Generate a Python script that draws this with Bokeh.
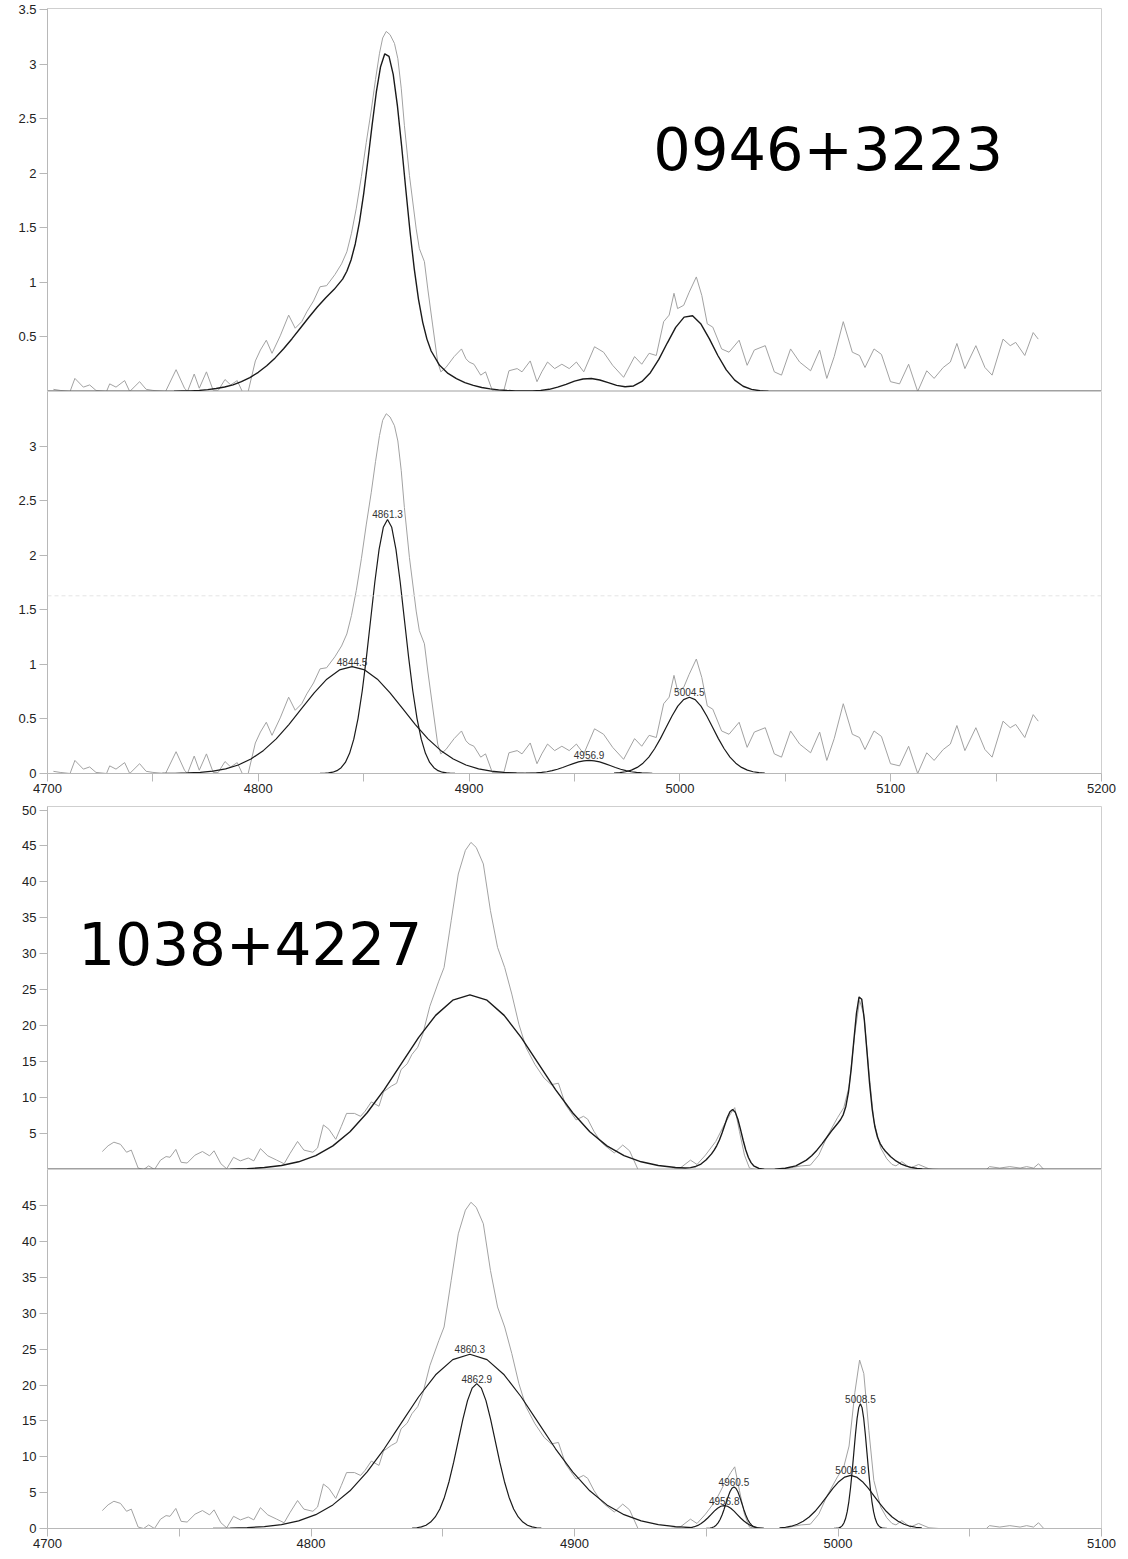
from bokeh.plotting import figure
from bokeh.layouts import column
from bokeh.models import Range1d, FixedTicker, Label, Span, ColumnDataSource
from bokeh.embed import file_html
from bokeh.resources import INLINE
from bokeh.core.properties import value

# ---------------- 0946+3223 ----------------
obs1_wl = [4702.8, 4706.0, 4710.7, 4713.0, 4717.0, 4720.0, 4723.0, 4728.0, 4729.5, 4732.5, 4736.6, 4739.0,
           4743.7, 4746.8, 4750.0, 4756.0, 4761.0, 4765.0, 4766.4, 4769.6, 4772.0, 4775.4, 4778.6, 4781.0,
           4784.2, 4786.9, 4790.0, 4792.4, 4795.2, 4798.6, 4801.0, 4803.8, 4806.5, 4810.4, 4814.4, 4817.5,
           4820.6, 4823.0, 4826.2, 4829.3, 4832.4, 4836.3, 4839.5, 4842.0, 4844.2, 4846.5, 4848.9, 4851.2,
           4853.6, 4855.6, 4857.5, 4859.0, 4860.7, 4862.5, 4864.6, 4866.2, 4867.8, 4869.3, 4871.7, 4874.9,
           4876.4, 4878.8, 4880.4, 4882.7, 4885.1, 4886.6, 4889.0, 4892.9, 4896.4, 4898.5, 4900.0, 4902.3,
           4905.5, 4907.8, 4911.0, 4916.5, 4918.9, 4922.8, 4925.1, 4929.0, 4932.2, 4934.5, 4937.2, 4940.6,
           4944.0, 4947.5, 4950.9, 4954.4, 4959.5, 4963.8, 4968.1, 4973.3, 4978.5, 4981.9, 4985.4, 4988.8,
           4992.3, 4994.9, 4997.2, 4998.9, 5001.8, 5004.4, 5007.8, 5010.4, 5013.0, 5015.6, 5019.8, 5023.3,
           5028.1, 5031.9, 5035.3, 5040.5, 5044.8, 5048.2, 5052.5, 5056.8, 5062.0, 5066.3, 5069.7, 5073.2,
           5077.5, 5081.8, 5085.2, 5087.8, 5092.1, 5095.6, 5099.9, 5104.2, 5108.5, 5112.8, 5117.1, 5120.6,
           5124.9, 5128.3, 5131.4, 5135.2, 5140.4, 5144.7, 5148.1, 5153.3, 5156.7, 5159.3, 5163.6, 5167.6,
           5170.0]
obs1_flux = [0.02, 0.01, 0.00, 0.12, 0.04, 0.06, 0.01, 0.00, 0.07, 0.04, 0.10, 0.00,
             0.09, 0.02, 0.01, 0.00, 0.20, 0.03, 0.00, 0.16, 0.03, 0.18, 0.01, 0.01,
             0.11, 0.06, 0.10, 0.00, 0.00, 0.28, 0.38, 0.47, 0.35, 0.51, 0.70, 0.58,
             0.64, 0.73, 0.83, 0.96, 0.97, 1.07, 1.17, 1.28, 1.45, 1.68, 1.97, 2.28,
             2.58, 2.86, 3.10, 3.24, 3.30, 3.27, 3.19, 3.05, 2.78, 2.44, 1.98, 1.49,
             1.31, 1.19, 0.94, 0.61, 0.27, 0.18, 0.22, 0.32, 0.39, 0.30, 0.27, 0.25,
             0.15, 0.18, 0.01, 0.01, 0.19, 0.21, 0.18, 0.28, 0.09, 0.18, 0.27, 0.21,
             0.25, 0.21, 0.27, 0.18, 0.41, 0.36, 0.24, 0.13, 0.32, 0.25, 0.35, 0.33,
             0.64, 0.70, 0.90, 0.76, 0.79, 0.91, 1.05, 0.88, 0.62, 0.59, 0.39, 0.36,
             0.47, 0.24, 0.38, 0.42, 0.18, 0.15, 0.39, 0.27, 0.19, 0.38, 0.12, 0.32,
             0.64, 0.36, 0.33, 0.22, 0.39, 0.34, 0.09, 0.07, 0.25, 0.00, 0.19, 0.12,
             0.22, 0.27, 0.44, 0.21, 0.42, 0.22, 0.15, 0.48, 0.42, 0.45, 0.33, 0.54,
             0.48]

fit1_wl = [4700, 4748, 4752, 4756, 4760, 4764, 4768, 4772, 4776, 4780, 4784, 4788, 4792, 4796, 4800,
           4804, 4808, 4812, 4816, 4820, 4824, 4828, 4832, 4836, 4840, 4842, 4844, 4846, 4848, 4850,
           4852, 4854, 4856, 4858, 4860, 4862, 4864, 4866, 4868, 4870, 4872, 4874, 4876, 4878, 4880,
           4882, 4886, 4890, 4894, 4898, 4902, 4906, 4910, 4914, 4918, 4922, 4926, 4930, 4934, 4938,
           4942, 4946, 4950, 4954, 4958, 4962, 4966, 4970, 4974, 4978, 4982, 4986, 4990, 4994, 4998,
           5002, 5006, 5010, 5014, 5018, 5022, 5026, 5030, 5034, 5038, 5042, 5046, 5200]
fit1_flux = [0, 0, 0.001, 0.001, 0.002, 0.004, 0.006, 0.010, 0.017, 0.027, 0.041, 0.061, 0.090, 0.127, 0.176,
             0.236, 0.308, 0.392, 0.484, 0.582, 0.680, 0.774, 0.859, 0.936, 1.030, 1.102, 1.205, 1.352, 1.555, 1.814,
             2.119, 2.443, 2.745, 2.977, 3.095, 3.072, 2.906, 2.617, 2.248, 1.847, 1.461, 1.121, 0.845, 0.634, 0.480,
             0.371, 0.240, 0.166, 0.118, 0.082, 0.056, 0.037, 0.024, 0.015, 0.009, 0.006, 0.004, 0.005, 0.010, 0.020,
             0.040, 0.066, 0.095, 0.115, 0.119, 0.105, 0.081, 0.056, 0.043, 0.051, 0.092, 0.172, 0.294, 0.444, 0.588,
             0.682, 0.694, 0.618, 0.482, 0.330, 0.198, 0.104, 0.048, 0.019, 0.007, 0.002, 0.001, 0]

hb_broad1_wl = [4754.5, 4760.5, 4766.5, 4772.5, 4778.5, 4784.5, 4790.5, 4796.5, 4802.5, 4808.5, 4814.5,
                4820.5, 4826.5, 4832.5, 4838.5, 4844.5, 4850.5, 4856.5, 4862.5, 4868.5, 4874.5, 4880.5,
                4886.5, 4892.5, 4898.5, 4904.5, 4910.5, 4916.5, 4922.5, 4928.5, 4934.5]
hb_broad1_flux = [0.001, 0.002, 0.005, 0.011, 0.022, 0.043, 0.078, 0.133, 0.212, 0.318, 0.449,
                  0.594, 0.740, 0.865, 0.950, 0.980, 0.950, 0.865, 0.740, 0.594, 0.449, 0.318,
                  0.212, 0.133, 0.078, 0.043, 0.022, 0.011, 0.005, 0.002, 0.001]

hb_narrow1_wl = [4829.3, 4831.3, 4833.3, 4835.3, 4837.3, 4839.3, 4841.3, 4843.3, 4845.3, 4847.3, 4849.3,
                 4851.3, 4853.3, 4855.3, 4857.3, 4859.3, 4861.3, 4863.3, 4865.3, 4867.3, 4869.3, 4871.3,
                 4873.3, 4875.3, 4877.3, 4879.3, 4881.3, 4883.3, 4885.3, 4887.3, 4889.3, 4891.3, 4893.3]
hb_narrow1_flux = [0.001, 0.002, 0.005, 0.012, 0.026, 0.053, 0.102, 0.185, 0.315, 0.504, 0.757,
                   1.067, 1.413, 1.759, 2.056, 2.258, 2.330, 2.258, 2.056, 1.759, 1.413, 1.067,
                   0.757, 0.504, 0.315, 0.185, 0.102, 0.053, 0.026, 0.012, 0.005, 0.002, 0.001]

o3_4959_1_wl = [4926.9, 4929.4, 4931.9, 4934.4, 4936.9, 4939.4, 4941.9, 4944.4, 4946.9, 4949.4, 4951.9,
                4954.4, 4956.9, 4959.4, 4961.9, 4964.4, 4966.9, 4969.4, 4971.9, 4974.4, 4976.9, 4979.4,
                4981.9, 4984.4, 4986.9]
o3_4959_1_flux = [0.001, 0.003, 0.005, 0.010, 0.016, 0.026, 0.039, 0.055, 0.073, 0.091, 0.106,
                  0.116, 0.120, 0.116, 0.106, 0.091, 0.073, 0.055, 0.039, 0.026, 0.016, 0.010,
                  0.005, 0.003, 0.001]

o3_5007_1_wl = [4968.75, 4971.5, 4974.25, 4977.0, 4979.75, 4982.5, 4985.25, 4988.0, 4990.75, 4993.5,
                4996.25, 4999.0, 5001.75, 5004.5, 5007.25, 5010.0, 5012.75, 5015.5, 5018.25, 5021.0,
                5023.75, 5026.5, 5029.25, 5032.0, 5034.75, 5037.5, 5040.25]
o3_5007_1_flux = [0.004, 0.008, 0.016, 0.031, 0.056, 0.095, 0.151, 0.227, 0.320, 0.425,
                  0.528, 0.618, 0.678, 0.700, 0.678, 0.618, 0.528, 0.425, 0.320, 0.227,
                  0.151, 0.095, 0.056, 0.031, 0.016, 0.008, 0.004]

peaks1_wl = [4844.5, 4861.3, 4956.9, 5004.5]
peaks1_flux = [0.98, 2.33, 0.12, 0.70]
peaks1_text = ["4844.5", "4861.3", "4956.9", "5004.5"]

# ---------------- 1038+4227 ----------------
obs2_wl = [4720.8, 4723.0, 4725.2, 4727.7, 4730.0, 4731.8, 4734.4, 4736.5, 4738.4, 4740.6, 4742.9, 4745.0,
           4746.5, 4748.7, 4750.7, 4753.0, 4756.0, 4758.8, 4761.5, 4763.2, 4765.8, 4768.0, 4770.6, 4773.2,
           4776.2, 4778.3, 4780.8, 4783.6, 4787.0, 4789.8, 4792.0, 4794.9, 4797.3, 4800.7, 4802.5, 4804.7,
           4806.8, 4809.4, 4811.5, 4813.5, 4816.5, 4818.8, 4820.5, 4822.9, 4825.8, 4827.5, 4830.5, 4832.5,
           4834.2, 4836.5, 4838.3, 4840.5, 4842.4, 4845.1, 4848.5, 4850.5, 4853.2, 4855.9, 4858.6, 4860.7,
           4862.7, 4865.4, 4868.1, 4870.8, 4873.5, 4876.2, 4878.9, 4881.7, 4885.0, 4888.5, 4891.2, 4893.9,
           4896.6, 4900.6, 4903.4, 4905.0, 4907.4, 4909.9, 4911.3, 4915.1, 4918.3, 4920.9, 4924.1, 4931.8,
           4936.3, 4940.1, 4944.0, 4946.5, 4949.7, 4953.6, 4956.8, 4959.3, 4960.8, 4962.6, 4964.5, 4966.4,
           4969.0, 4979.3, 4983.0, 4986.0, 4989.5, 4992.7, 4995.9, 4999.8, 5002.2, 5004.2, 5006.4, 5008.2,
           5009.8, 5011.7, 5013.6, 5016.2, 5018.5, 5020.5, 5022.0, 5024.2, 5027.4, 5030.6, 5034.5, 5038.3,
           5056.3, 5057.5, 5061.4, 5065.2, 5069.1, 5071.6, 5074.2, 5076.1, 5078.1, 5087.7]
obs2_flux = [2.5, 3.3, 3.8, 3.5, 2.4, 2.7, 0.2, 0.0, 0.5, 0.0, 1.3, 1.8,
             1.7, 2.8, 1.0, 0.9, 2.0, 2.5, 1.9, 2.6, 0.8, 0.1, 1.7, 1.2,
             1.6, 1.2, 2.9, 1.9, 1.3, 0.8, 2.2, 3.9, 2.7, 2.4, 3.0, 6.2,
             5.6, 4.2, 6.0, 7.8, 7.8, 7.4, 8.1, 9.4, 8.8, 10.8, 11.6, 12.0,
             13.9, 14.7, 16.0, 17.0, 18.8, 22.7, 26.2, 28.1, 34.6, 41.1, 44.4, 45.5,
             44.8, 42.5, 36.0, 30.9, 28.1, 24.4, 20.2, 16.9, 14.6, 12.7, 11.8, 12.0,
             9.0, 6.9, 7.4, 7.0, 5.3, 3.9, 3.4, 2.3, 3.4, 2.6, 0.0, 0.0,
             0.0, 0.2, 1.3, 0.7, 2.0, 3.9, 6.2, 7.8, 8.6, 5.3, 2.0, 0.2,
             0.0, 0.0, 0.3, 0.5, 0.6, 2.0, 4.6, 7.2, 8.6, 11.5, 19.0, 23.5,
             21.6, 13.7, 6.7, 3.0, 1.5, 0.7, 0.5, 1.1, 0.2, 0.7, 0.1, 0.0,
             0.0, 0.4, 0.2, 0.4, 0.2, 0.4, 0.2, 0.8, 0.0, 0.0]

fit2_wl = [4700, 4756, 4762.8, 4769.3, 4775.8, 4782.3, 4788.8, 4795.3, 4801.8, 4808.3, 4814.8, 4821.3,
           4827.8, 4834.3, 4840.8, 4847.3, 4853.8, 4860.3, 4866.8, 4873.3, 4879.8, 4886.3, 4892.8,
           4899.3, 4905.8, 4912.3, 4918.8, 4925.3, 4931.8, 4938.3,
           4942, 4944, 4946, 4948, 4950, 4952, 4953, 4954, 4955, 4956, 4957, 4958, 4959, 4960, 4961,
           4962, 4963, 4964, 4965, 4966, 4967, 4968, 4970, 4972, 4974,
           4976, 4980, 4984, 4988, 4990, 4992, 4994, 4996, 4998, 5000, 5001, 5002, 5003, 5004, 5005,
           5006, 5007, 5008, 5009, 5010, 5011, 5012, 5013, 5014, 5015, 5016, 5017, 5018, 5020, 5022,
           5024, 5026, 5028, 5030, 5032, 5036, 5040, 5100]
fit2_flux = [0, 0, 0.02, 0.05, 0.12, 0.27, 0.55, 1.07, 1.93, 3.29, 5.26, 7.89,
             11.12, 14.74, 18.34, 21.44, 23.55, 24.30, 23.55, 21.44, 18.34, 14.74, 11.12,
             7.89, 5.26, 3.29, 1.93, 1.07, 0.55, 0.27,
             0.21, 0.26, 0.42, 0.76, 1.35, 2.17, 2.69, 3.33, 4.11, 5.07, 6.16, 7.23, 8.04, 8.34, 7.98,
             6.99, 5.58, 4.07, 2.72, 1.67, 0.95, 0.52, 0.14, 0.04, 0.01,
             0.05, 0.17, 0.51, 1.30, 1.91, 2.69, 3.60, 4.59, 5.57, 6.47, 6.96, 7.64, 8.80, 10.81, 13.93,
             17.89, 21.72, 24.00, 23.69, 20.80, 16.39, 11.90, 8.33, 5.94, 4.49, 3.60, 3.01, 2.54, 1.78, 1.19,
             0.76, 0.46, 0.27, 0.15, 0.08, 0.02, 0.00, 0]

hb_broad2_wl = [4762.8, 4769.3, 4775.8, 4782.3, 4788.8, 4795.3, 4801.8, 4808.3, 4814.8, 4821.3, 4827.8,
                4834.3, 4840.8, 4847.3, 4853.8, 4860.3, 4866.8, 4873.3, 4879.8, 4886.3, 4892.8, 4899.3,
                4905.8, 4912.3, 4918.8, 4925.3, 4931.8, 4938.3, 4944.8]
hb_broad2_flux = [0.02, 0.05, 0.12, 0.27, 0.55, 1.07, 1.93, 3.29, 5.26, 7.89, 11.12,
                  14.74, 18.34, 21.44, 23.55, 24.30, 23.55, 21.44, 18.34, 14.74, 11.12, 7.89,
                  5.26, 3.29, 1.93, 1.07, 0.55, 0.27, 0.12]

hb_narrow2_wl = [4838.4, 4840.15, 4841.9, 4843.65, 4845.4, 4847.15, 4848.9, 4850.65, 4852.4, 4854.15,
                 4855.9, 4857.65, 4859.4, 4861.15, 4862.9, 4864.65, 4866.4, 4868.15, 4869.9, 4871.65,
                 4873.4, 4875.15, 4876.9, 4878.65, 4880.4, 4882.15, 4883.9, 4885.65, 4887.4]
hb_narrow2_flux = [0.04, 0.10, 0.22, 0.46, 0.89, 1.61, 2.73, 4.37, 6.56, 9.25,
                   12.25, 15.25, 17.83, 19.58, 20.20, 19.58, 17.83, 15.25, 12.25, 9.25,
                   6.56, 4.37, 2.73, 1.61, 0.89, 0.46, 0.22, 0.10, 0.04]

o3_4957_2_wl = [4941.8, 4943.05, 4944.3, 4945.55, 4946.8, 4948.05, 4949.3, 4950.55, 4951.8, 4953.05,
                4954.3, 4955.55, 4956.8, 4958.05, 4959.3, 4960.55, 4961.8, 4963.05, 4964.3, 4965.55,
                4966.8, 4968.05, 4969.3, 4970.55, 4971.8]
o3_4957_2_flux = [0.04, 0.07, 0.14, 0.25, 0.43, 0.69, 1.04, 1.46, 1.94, 2.42,
                  2.82, 3.10, 3.20, 3.10, 2.82, 2.42, 1.94, 1.46, 1.04, 0.69,
                  0.43, 0.25, 0.14, 0.07, 0.04]

o3_4960_2_wl = [4950.0, 4950.75, 4951.5, 4952.25, 4953.0, 4953.75, 4954.5, 4955.25, 4956.0, 4956.75,
                4957.5, 4958.25, 4959.0, 4959.75, 4960.5, 4961.25, 4962.0, 4962.75, 4963.5, 4964.25,
                4965.0, 4965.75, 4966.5, 4967.25, 4968.0, 4968.75, 4969.5, 4970.25, 4971.0]
o3_4960_2_flux = [0.01, 0.03, 0.06, 0.13, 0.25, 0.46, 0.78, 1.25, 1.88, 2.66,
                  3.52, 4.38, 5.12, 5.62, 5.80, 5.62, 5.12, 4.38, 3.52, 2.66,
                  1.88, 1.25, 0.78, 0.46, 0.25, 0.13, 0.06, 0.03, 0.01]

o3_5005_2_wl = [4977.8, 4980.05, 4982.3, 4984.55, 4986.8, 4989.05, 4991.3, 4993.55, 4995.8, 4998.05,
                5000.3, 5002.55, 5004.8, 5007.05, 5009.3, 5011.55, 5013.8, 5016.05, 5018.3, 5020.55,
                5022.8, 5025.05, 5027.3, 5029.55, 5031.8]
o3_5005_2_flux = [0.08, 0.17, 0.32, 0.59, 1.00, 1.60, 2.40, 3.39, 4.49, 5.59,
                  6.53, 7.17, 7.40, 7.17, 6.53, 5.59, 4.49, 3.39, 2.40, 1.60,
                  1.00, 0.59, 0.32, 0.17, 0.08]

o3_5008_2_wl = [4998.5, 4999.125, 4999.75, 5000.375, 5001.0, 5001.625, 5002.25, 5002.875, 5003.5,
                5004.125, 5004.75, 5005.375, 5006.0, 5006.625, 5007.25, 5007.875, 5008.5, 5009.125,
                5009.75, 5010.375, 5011.0, 5011.625, 5012.25, 5012.875, 5013.5, 5014.125, 5014.75,
                5015.375, 5016.0, 5016.625, 5017.25, 5017.875, 5018.5]
o3_5008_2_flux = [0.01, 0.02, 0.04, 0.09, 0.19, 0.40, 0.76, 1.39, 2.35,
                  3.76, 5.65, 7.97, 10.55, 13.13, 15.36, 16.86, 17.40, 16.86,
                  15.36, 13.13, 10.55, 7.97, 5.65, 3.76, 2.35, 1.39, 0.76,
                  0.40, 0.19, 0.09, 0.04, 0.02, 0.01]

peaks2_wl = [4860.3, 4862.9, 4956.8, 4960.5, 5004.8, 5008.5]
peaks2_flux = [24.3, 20.2, 3.2, 5.8, 7.4, 17.4]
peaks2_text = ["4860.3", "4862.9", "4956.8", "4960.5", "5004.8", "5008.5"]

# ---------------- ticks ----------------
yA_ticks = [0.5, 1, 1.5, 2, 2.5, 3, 3.5]
yA_labels = ["0.5", "1", "1.5", "2", "2.5", "3", "3.5"]
yB_ticks = [0, 0.5, 1, 1.5, 2, 2.5, 3]
yB_labels = ["0", "0.5", "1", "1.5", "2", "2.5", "3"]
yC_ticks = [5, 10, 15, 20, 25, 30, 35, 40, 45, 50]
yC_labels = ["5", "10", "15", "20", "25", "30", "35", "40", "45", "50"]
yD_ticks = [0, 5, 10, 15, 20, 25, 30, 35, 40, 45]
yD_labels = ["0", "5", "10", "15", "20", "25", "30", "35", "40", "45"]
x1_ticks = [4700, 4750, 4800, 4850, 4900, 4950, 5000, 5050, 5100, 5150, 5200]
x1_labels = ["4700", "", "4800", "", "4900", "", "5000", "", "5100", "", "5200"]
x2_ticks = [4700, 4750, 4800, 4850, 4900, 4950, 5000, 5050, 5100]
x2_labels = ["4700", "", "4800", "", "4900", "", "5000", "", "5100"]

OBS = "#a2a2a2"
FIT = "#1a1a1a"
AX = "#b8b8b8"
TXT = "#222222"
TICK_FONT = "Liberation Sans"


def make_fig(height, xr, yr, left, right, top, bottom, show_x):
    p = figure(width=1128, height=height, x_range=Range1d(*xr), y_range=Range1d(*yr),
               output_backend="svg", toolbar_location=None,
               x_axis_location="below" if show_x else None,
               min_border_left=left, min_border_right=right,
               min_border_top=top, min_border_bottom=bottom)
    p.xgrid.visible = False
    p.ygrid.visible = False
    p.outline_line_color = "#cfcfcf"
    p.background_fill_color = "white"
    p.border_fill_color = "white"
    return p


def style_axis(ax, ticks, labels, standoff):
    ax.ticker = FixedTicker(ticks=ticks)
    ax.major_label_overrides = {t: l for t, l in zip(ticks, labels)}
    ax.axis_line_color = AX
    ax.major_tick_line_color = AX
    ax.major_tick_out = 8
    ax.major_tick_in = 0
    ax.minor_tick_line_color = None
    ax.major_label_text_font = TICK_FONT
    ax.major_label_text_font_size = "13px"
    ax.major_label_text_color = TXT
    ax.major_label_standoff = standoff


def add_peak_labels(p, xs, ys, texts):
    src = ColumnDataSource(dict(x=xs, y=ys, t=texts))
    p.text(x="x", y="y", text="t", source=src, text_font=value(TICK_FONT),
           text_font_size=value("10px"), text_color="#333333", text_align="center",
           text_baseline="bottom", y_offset=-1)


# Panel A: 0946+3223 total fit
pA = make_fig(391, (4700, 5200), (0, 3.51), 44, 23, 8, 0, False)
style_axis(pA.yaxis[0], yA_ticks, yA_labels, 3)
pA.line(obs1_wl, obs1_flux, line_color=OBS, line_width=1)
pA.line(fit1_wl, fit1_flux, line_color=FIT, line_width=1.4)
pA.add_layout(Label(x=4987.4, y=2.23, text="0946+3223", text_font="DejaVu Sans",
                    text_font_size="59px", text_color="black", text_baseline="alphabetic"))

# Panel B: 0946+3223 components
pB = make_fig(409, (4700, 5200), (0, 3.504), 44, 23, 0, 27, True)
style_axis(pB.yaxis[0], yB_ticks, yB_labels, 3)
style_axis(pB.xaxis[0], x1_ticks, x1_labels, 2)
pB.add_layout(Span(location=1.63, dimension="width", line_color="#e4e4e4",
                   line_dash="4 3", line_width=1))
pB.line(obs1_wl, obs1_flux, line_color=OBS, line_width=1)
for wl, fl in [(hb_broad1_wl, hb_broad1_flux), (hb_narrow1_wl, hb_narrow1_flux),
               (o3_4959_1_wl, o3_4959_1_flux), (o3_5007_1_wl, o3_5007_1_flux)]:
    pB.line(wl, fl, line_color=FIT, line_width=1.2)
add_peak_labels(pB, peaks1_wl, peaks1_flux, peaks1_text)

# Panel C: 1038+4227 total fit
pC = make_fig(369, (4700, 5100), (0, 50.49), 47, 27, 6, 0, False)
style_axis(pC.yaxis[0], yC_ticks, yC_labels, 3)
pC.line(obs2_wl, obs2_flux, line_color=OBS, line_width=1)
pC.line(fit2_wl, fit2_flux, line_color=FIT, line_width=1.4)
pC.add_layout(Label(x=4711.7, y=31.5, text="1038+4227", text_font="DejaVu Sans",
                    text_font_size="58px", text_color="black", text_baseline="alphabetic"))

# Panel D: 1038+4227 components
pD = make_fig(390, (4700, 5100), (0, 50.07), 47, 27, 0, 31, True)
style_axis(pD.yaxis[0], yD_ticks, yD_labels, 3)
style_axis(pD.xaxis[0], x2_ticks, x2_labels, 2)
pD.line(obs2_wl, obs2_flux, line_color=OBS, line_width=1)
for wl, fl in [(hb_broad2_wl, hb_broad2_flux), (hb_narrow2_wl, hb_narrow2_flux),
               (o3_4957_2_wl, o3_4957_2_flux), (o3_4960_2_wl, o3_4960_2_flux),
               (o3_5005_2_wl, o3_5005_2_flux), (o3_5008_2_wl, o3_5008_2_flux)]:
    pD.line(wl, fl, line_color=FIT, line_width=1.2)
add_peak_labels(pD, peaks2_wl, peaks2_flux, peaks2_text)

layout = column(pA, pB, pC, pD, spacing=0)
open("out.html", "w").write(file_html(layout, INLINE))
